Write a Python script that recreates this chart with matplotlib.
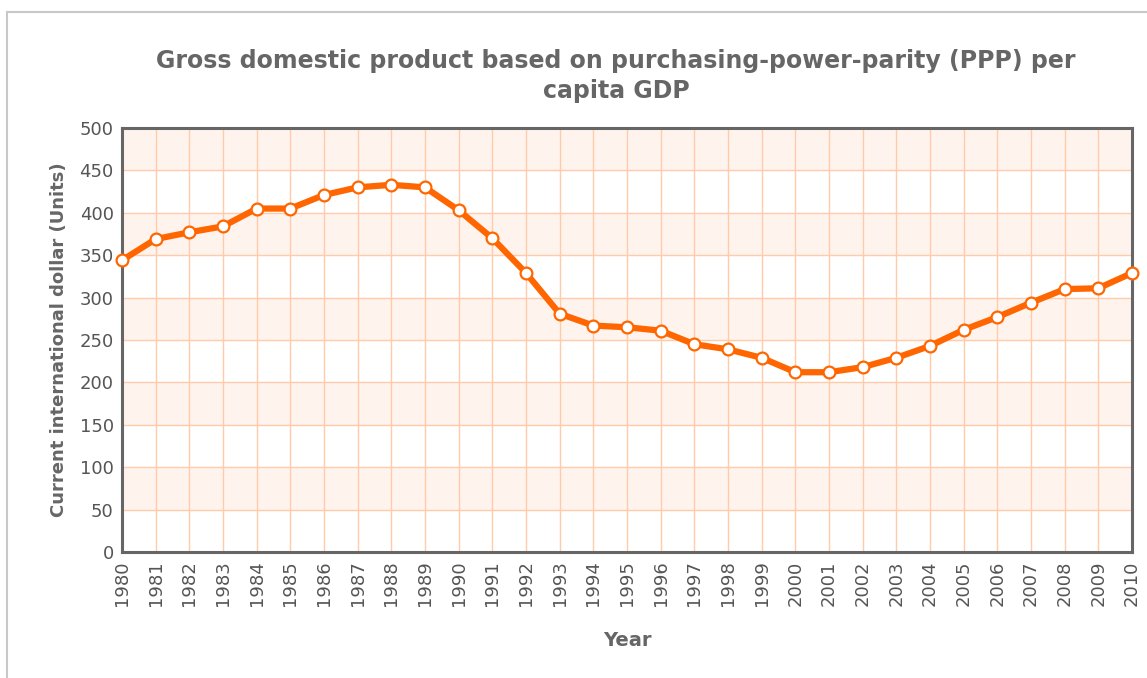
import matplotlib.pyplot as plt
import matplotlib.patches as patches

plt.rcParams['font.family'] = ['DejaVu Sans']

years = list(range(1980, 2011))
gdp = [344, 369, 377, 384, 405, 405, 421, 430, 433, 430,
       403, 370, 329, 281, 267, 265, 261, 245, 239, 229,
       212, 212, 218, 229, 243, 262, 277, 294, 310, 311, 329]
yticks = list(range(0, 501, 50))

orange = '#FF6600'
grey = '#666666'

fig = plt.figure(figsize=(11.47, 6.78), dpi=100)
# light outer frame
fig.patches.append(patches.Rectangle((7/1147, -0.05), 1.1, 1.05 - 12/678, transform=fig.transFigure,
                                     fill=False, edgecolor='#c8c8c8', linewidth=1.5))
ax = fig.add_axes([122/1147, 1 - 552/678, 1010/1147, 424/678])

# alternate shaded bands
for lo in range(50, 500, 100):
    ax.axhspan(lo, lo + 50, color='#FFF3EE', zorder=0, lw=0)

ax.plot(years, gdp, color=orange, linewidth=4.5, marker='o', markersize=8.5,
        markerfacecolor='white', markeredgecolor=orange, markeredgewidth=1.6,
        zorder=3, clip_on=False)

ax.set_xlim(1980, 2010)
ax.set_ylim(0, 500)
ax.set_xticks(years)
ax.set_xticklabels([str(y) for y in years], rotation=90)
ax.set_yticks(yticks)
ax.grid(True, color='#FFCBA8', linewidth=1, zorder=1)
ax.set_axisbelow(True)
ax.tick_params(axis='both', length=0, labelsize=13, labelcolor='#555555', pad=6)
for s in ax.spines.values():
    s.set_color(grey)
    s.set_linewidth(2.2)

ax.set_ylabel('Current international dollar (Units)', fontsize=13, fontweight='bold',
              color=grey, labelpad=8)
ax.set_xlabel('Year', fontsize=14, fontweight='bold', color=grey, labelpad=18)
fig.text(0.537, 0.888, 'Gross domestic product based on purchasing-power-parity (PPP) per\ncapita GDP',
         ha='center', va='center', fontsize=17, fontweight='bold', color=grey, linespacing=1.3)

fig.savefig('out.png', dpi=100)
